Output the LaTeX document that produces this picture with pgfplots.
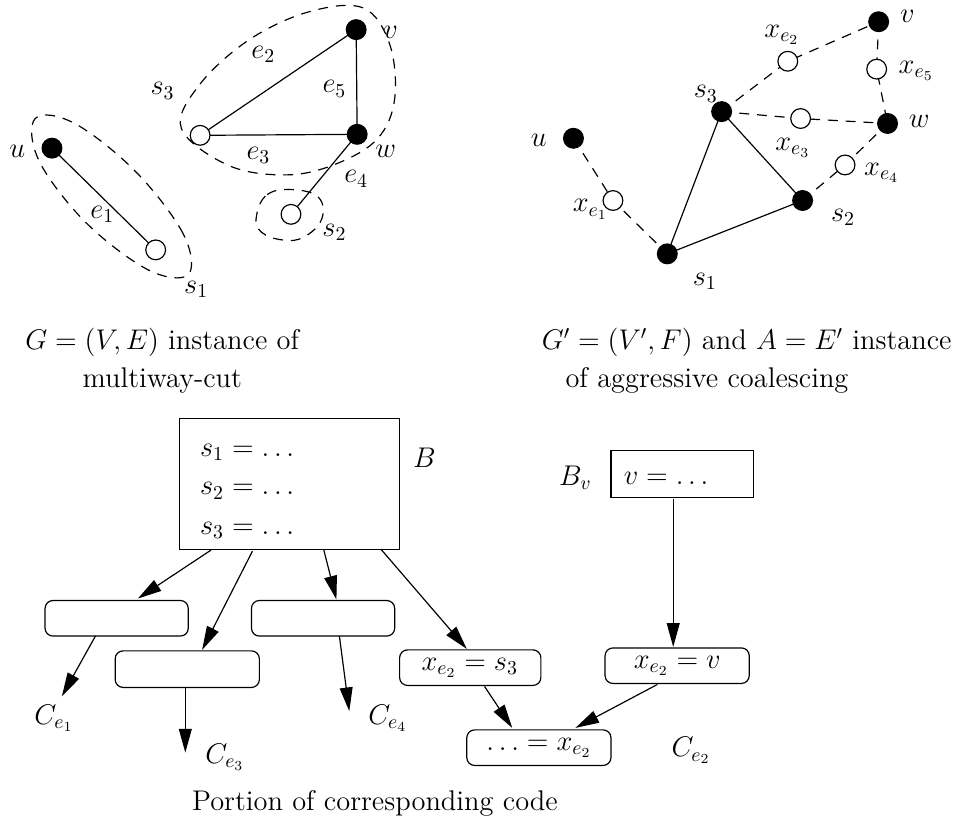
\documentclass[border=0pt]{standalone}
\usepackage{pgfplots}
\pgfplotsset{compat=1.18}
\usetikzlibrary{arrows.meta}
\pgfplotsset{
  ed/.style={black, line width=0.6pt, mark=none},
  dsh/.style={black, line width=0.6pt, mark=none, dash pattern=on 5pt off 4pt},
  fn/.style={only marks, mark=*, mark size=5pt, mark options={fill=black, draw=black, line width=0.6pt, solid}},
  on/.style={only marks, mark=*, mark size=5pt, mark options={fill=white, draw=black, line width=0.6pt, solid}},
  ar/.style={black, line width=0.6pt, mark=none, -{Triangle[length=12pt,width=6.5pt]}},
}
\begin{document}
\Large
\begin{tikzpicture}
\begin{axis}[width=480.5pt, height=418.5pt, scale only axis,
  xmin=0, xmax=961, ymin=0, ymax=837, y dir=reverse,
  hide axis, clip=false]
\addplot[draw=none, mark=none] coordinates {(0,0) (961,837)};
% ---------- top-left graph: multiway cut ----------
\addplot[dsh, smooth cycle, tension=0.6] coordinates {(188,278) (183,237) (135,174) (73,125) (33,120) (37,163) (84,225) (147,273)};
\addplot[dsh, smooth cycle, tension=0.6] coordinates {(181,130) (200,85) (250,40) (310,12) (365,8) (392,45) (397,100) (380,140) (340,165) (290,177) (230,168)};
\addplot[dsh, smooth cycle, tension=0.7] coordinates {(257,219) (268,197) (294,192) (320,200) (323,222) (305,240) (284,243) (262,235)};
\addplot[ed] coordinates {(50,150) (155,253)};
\addplot[ed] coordinates {(200,137) (358,30) (359,136) (200,137)};
\addplot[ed] coordinates {(359,136) (292,217)};
\addplot[fn] coordinates {(50,150) (358,30) (359,136)};
\addplot[on] coordinates {(155,253) (200,137) (292,217)};
\node at (axis cs:15,153) {$u$};
\node at (axis cs:101,217) {$e_1$};
\node at (axis cs:196,293) {$s_1$};
\node at (axis cs:162,92) {$s_3$};
\node at (axis cs:264,55) {$e_2$};
\node at (axis cs:336,90) {$e_5$};
\node at (axis cs:259,157) {$e_3$};
\node at (axis cs:358,181) {$e_4$};
\node at (axis cs:336,235) {$s_2$};
\node at (axis cs:393,33) {$v$};
\node at (axis cs:388,153) {$w$};
% ---------- top-right graph: aggressive coalescing ----------
\addplot[dsh] coordinates {(578,140) (618,203) (673,257)};
\addplot[dsh] coordinates {(728,113) (795,62) (887,22)};
\addplot[dsh] coordinates {(887,22) (885,70) (896,125)};
\addplot[dsh] coordinates {(728,113) (808,120) (896,125)};
\addplot[dsh] coordinates {(810,203) (853,167) (896,125)};
\addplot[ed] coordinates {(673,257) (728,113) (810,203) (673,257)};
\addplot[fn] coordinates {(578,140) (673,257) (728,113) (810,203) (887,22) (896,125)};
\addplot[on] coordinates {(618,203) (795,62) (885,70) (808,120) (853,167)};
\node at (axis cs:543,142) {$u$};
\node at (axis cs:595,212) {$x_{e_1}$};
\node at (axis cs:712,95) {$s_3$};
\node at (axis cs:711,285) {$s_1$};
\node at (axis cs:851,220) {$s_2$};
\node at (axis cs:789,35) {$x_{e_2}$};
\node at (axis cs:925,72) {$x_{e_5}$};
\node at (axis cs:800,150) {$x_{e_3}$};
\node at (axis cs:890,175) {$x_{e_4}$};
\node at (axis cs:916,17) {$v$};
\node at (axis cs:928,123) {$w$};
% ---------- captions ----------
\node[anchor=west] at (axis cs:13,347) {$G=(V,E)$ instance of};
\node[anchor=west] at (axis cs:71,385) {multiway-cut};
\node[anchor=west] at (axis cs:536,347) {$G'=(V',F)$ and $A=E'$ instance};
\node[anchor=west] at (axis cs:560,385) {of aggressive coalescing};
\node at (axis cs:377,813) {Portion of corresponding code};
% ---------- code boxes ----------
\addplot[ed] coordinates {(179,424) (402,424) (402,556) (179,556) (179,424)};
\node[anchor=west] at (axis cs:190,458) {$s_1=\ldots$};
\node[anchor=west] at (axis cs:190,497) {$s_2=\ldots$};
\node[anchor=west] at (axis cs:190,537) {$s_3=\ldots$};
\node at (axis cs:427,463) {$B$};
\addplot[ed] coordinates {(616,456) (760,456) (760,504) (616,504) (616,456)};
\node[anchor=west] at (axis cs:619,484) {$v=\ldots$};
\node at (axis cs:580,484) {$B_v$};
\addplot[ed, rounded corners=4pt] coordinates {(115,608) (188,608) (188,644) (43,644) (43,608) (115,608)};
\addplot[ed, rounded corners=4pt] coordinates {(187,659) (260,659) (260,696) (114,696) (114,659) (187,659)};
\addplot[ed, rounded corners=4pt] coordinates {(325,608) (397,608) (397,644) (252,644) (252,608) (325,608)};
\addplot[ed, rounded corners=4pt] coordinates {(473,658) (545,658) (545,694) (402,694) (402,658) (473,658)};
\addplot[ed, rounded corners=4pt] coordinates {(683,656) (756,656) (756,692) (610,692) (610,656) (683,656)};
\addplot[ed, rounded corners=4pt] coordinates {(543,739) (616,739) (616,775) (470,775) (470,739) (543,739)};
\node at (axis cs:473,676) {$x_{e_2}=s_3$};
\node at (axis cs:683,674) {$x_{e_2}=v$};
\node at (axis cs:543,757) {$\ldots=x_{e_2}$};
% ---------- arrows ----------
\addplot[ar] coordinates {(211,557) (137,606)};
\addplot[ar] coordinates {(253,558) (202,658)};
\addplot[ar] coordinates {(325,556) (338,607)};
\addplot[ar] coordinates {(383,556) (470,657)};
\addplot[ar] coordinates {(94,644) (60,705)};
\addplot[ar] coordinates {(185,697) (185,762)};
\addplot[ar] coordinates {(341,644) (351,720)};
\addplot[ar] coordinates {(679,505) (679,655)};
\addplot[ar] coordinates {(663,693) (580,737)};
\addplot[ar] coordinates {(488,695) (516,737)};
\node at (axis cs:52,727) {$C_{e_1}$};
\node at (axis cs:225,767) {$C_{e_3}$};
\node at (axis cs:390,727) {$C_{e_4}$};
\node at (axis cs:697,760) {$C_{e_2}$};
\end{axis}
\end{tikzpicture}
\end{document}
